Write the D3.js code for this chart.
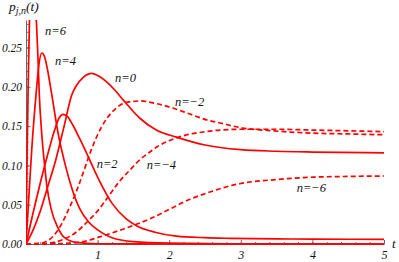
<!DOCTYPE html>
<html lang="en">
<head>
<meta charset="UTF-8">
<title>p j,n (t)</title>
<style>
  body { margin: 0; background: #fff; }
  svg { display: block; }
  .tick text, .lbl { font-family: "Liberation Serif", "DejaVu Serif", serif; font-style: italic; fill: #111; }
</style>
</head>
<body>
<svg id="chart" width="399" height="262"></svg>
<script src="https://cdnjs.cloudflare.com/ajax/libs/d3/7.8.5/d3.min.js"></script>
<script>
// values, [t, p]
const n6 = [[0,0],[0.01,0.07],[0.02,0.14],[0.03,0.2],[0.045,0.27],[0.06,0.32],[0.09,0.35],[0.12,0.32],[0.147,0.28],[0.17,0.23],[0.186,0.19],[0.22,0.14],[0.26,0.1],[0.29,0.075],[0.35,0.045],[0.45,0.02],[0.54,0.008],[0.7,0.002],[1,0.0003],[2,0],[5,0]];
const n4 = [[0,0],[0.04,0.06],[0.08,0.12],[0.14,0.19],[0.18,0.228],[0.22,0.243],[0.26,0.238],[0.3,0.222],[0.36,0.19],[0.45,0.14],[0.55,0.1],[0.64,0.071],[0.75,0.045],[0.875,0.028],[1,0.018],[1.2,0.008],[1.5,0.003],[2,0.001],[3,0.0002],[5,0]];
const n2 = [[0,0],[0.05,0.02],[0.1,0.04],[0.2,0.078],[0.3,0.113],[0.4,0.145],[0.46,0.16],[0.52,0.165],[0.58,0.162],[0.65,0.152],[0.75,0.134],[0.875,0.11],[1,0.085],[1.2,0.052],[1.4,0.032],[1.55,0.023],[1.8,0.015],[2.1,0.01],[2.5,0.008],[2.85,0.0072],[3.5,0.0065],[4,0.0062],[5,0.006]];
const n0 = [[0,0],[0.1,0.018],[0.2,0.042],[0.3,0.072],[0.41,0.105],[0.53,0.149],[0.64,0.19],[0.7,0.201],[0.8,0.212],[0.92,0.217],[1,0.2145],[1.13,0.206],[1.25,0.195],[1.36,0.183],[1.59,0.16],[1.82,0.145],[2.1,0.136],[2.5,0.126],[3,0.12],[3.5,0.118],[4,0.117],[5,0.116]];
const nm2 = [[0,0],[0.2,0.001],[0.3,0.004],[0.4,0.012],[0.5,0.026],[0.6,0.045],[0.7,0.066],[0.8,0.091],[0.9,0.117],[1,0.139],[1.13,0.16],[1.25,0.172],[1.36,0.179],[1.5,0.1815],[1.6,0.182],[1.8,0.179],[2.05,0.173],[2.3,0.165],[2.52,0.158],[2.71,0.154],[3,0.148],[3.45,0.144],[4,0.141],[4.5,0.14],[5,0.139]];
const nm4 = [[0,0],[0.3,0.001],[0.5,0.005],[0.7,0.015],[0.875,0.03],[1,0.042],[1.17,0.063],[1.3,0.079],[1.45,0.094],[1.6,0.108],[1.73,0.117],[1.82,0.123],[2.1,0.135],[2.3,0.14],[2.52,0.143],[2.71,0.145],[3,0.146],[3.5,0.146],[4,0.145],[4.5,0.144],[5,0.143]];
const nm6 = [[0,0],[0.5,0.0005],[0.8,0.003],[1.03,0.009],[1.2,0.014],[1.45,0.022],[1.73,0.032],[2,0.044],[2.29,0.057],[2.5,0.064],[2.85,0.074],[3,0.077],[3.5,0.082],[4,0.085],[4.5,0.086],[5,0.0865]];

const seriesNames = ["n=6", "n=4", "n=2", "n=0", "n=\u22122", "n=\u22124", "n=\u22126"];
const seriesData = [n6, n4, n2, n0, nm2, nm4, nm6];
const seriesDashed = [false, false, false, false, true, true, true];
// label anchor (t, p) for each series name
const labelAt = [[0.265,0.266],[0.405,0.228],[0.987,0.0967],[1.243,0.206],[2.08,0.175],[1.686,0.096],[3.78,0.066]];

const xTicks = [1, 2, 3, 4, 5];
const yTicks = [0, 0.05, 0.10, 0.15, 0.20, 0.25];

const svg = d3.select("#chart");
const x = d3.scaleLinear().domain([0, 5]).range([26, 384]);
const y = d3.scaleLinear().domain([0, 0.285]).range([244, 20]);

svg.append("clipPath").attr("id", "plot")
  .append("rect")
  .attr("x", x(0)).attr("y", y(0.285))
  .attr("width", x(5) - x(0) + 1).attr("height", y(0) - y(0.285) + 2);

const axisCol = "#666";

// minor ticks
svg.append("g")
  .attr("transform", `translate(0,${y(0)})`)
  .call(d3.axisBottom(x).tickValues(d3.range(0.2, 5.01, 0.2)).tickSize(-2).tickSizeOuter(0).tickFormat(""))
  .call(g => g.select(".domain").remove());
svg.append("g")
  .attr("transform", `translate(${x(0)},0)`)
  .call(d3.axisLeft(y).tickValues(d3.range(0.01, 0.281, 0.01)).tickSize(-2.5).tickSizeOuter(0).tickFormat(""))
  .call(g => g.select(".domain").remove());

// major ticks
const xAxis = svg.append("g")
  .attr("transform", `translate(0,${y(0)})`)
  .call(d3.axisBottom(x).tickValues(xTicks).tickSize(-4).tickSizeOuter(0).tickPadding(6).tickFormat(d3.format("d")));
const yAxis = svg.append("g")
  .attr("transform", `translate(${x(0)},0)`)
  .call(d3.axisLeft(y).tickValues(yTicks).tickSize(-4.5).tickSizeOuter(0).tickPadding(4).tickFormat(d3.format(".2f")));

svg.selectAll(".domain, .tick line").attr("stroke", axisCol);
svg.selectAll(".tick text").attr("font-size", 11.5);
xAxis.selectAll(".tick text").attr("font-size", 12);

// axis labels
svg.append("text").attr("class", "lbl").attr("x", 392).attr("y", y(0) + 4).attr("font-size", 13).text("t");
const yl = svg.append("text").attr("class", "lbl").attr("x", 9).attr("y", 11).attr("font-size", 13.5);
yl.append("tspan").text("p");
yl.append("tspan").attr("font-size", 10).attr("dy", 3).text("j,n");
yl.append("tspan").attr("dy", -3).text("(t)");

// curves
const line = d3.line()
  .x(d => x(d[0]))
  .y(d => y(d[1]))
  .curve(d3.curveMonotoneX);

svg.append("g").attr("clip-path", "url(#plot)")
  .selectAll("path")
  .data(seriesData)
  .join("path")
  .attr("d", line)
  .attr("fill", "none")
  .attr("stroke", "#ff0000")
  .attr("stroke-width", 1.7)
  .attr("stroke-dasharray", (d, i) => seriesDashed[i] ? "5,3" : null);

svg.append("g")
  .selectAll("text")
  .data(seriesNames)
  .join("text")
  .attr("class", "lbl")
  .attr("font-size", 12.5)
  .attr("x", (d, i) => x(labelAt[i][0]))
  .attr("y", (d, i) => y(labelAt[i][1]))
  .text(d => d);
</script>
</body>
</html>
